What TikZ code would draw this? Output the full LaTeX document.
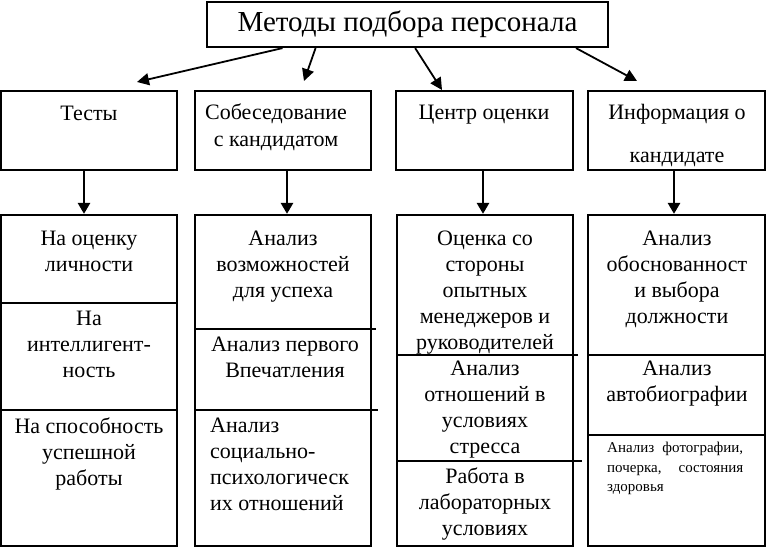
\documentclass[tikz,border=0pt]{standalone}
\usepackage{fontspec}
\setmainfont{Liberation Serif}
\usetikzlibrary{arrows.meta,calc}
\begin{document}
\begin{tikzpicture}[x=1pt,y=-1pt,
  box/.style={draw,line width=2.2pt,inner sep=0pt,rectangle},
  arr/.style={line width=1.8pt,-{Triangle[length=12pt,width=12pt]}},
  varr/.style={line width=2.6pt,-{Triangle[length=11pt,width=12pt]}},
  thickdiv/.style={line width=2pt},
  thindiv/.style={line width=1.2pt},
  txt/.style={inner sep=0pt,align=center,anchor=north,font=\fontsize{22}{26}\selectfont},
  ltxt/.style={inner sep=0pt,align=left,anchor=north west,font=\fontsize{22}{26}\selectfont},
  htxt/.style={inner sep=0pt,align=center,anchor=north,font=\fontsize{22}{27}\selectfont},
  stxt/.style={inner sep=0pt,align=justify,anchor=north west,text width=136pt,font=\fontsize{15}{19.5}\selectfont},
]
\useasboundingbox (0,0) rectangle (766,548);

% top box
\node[box,minimum width=401pt,minimum height=45pt,font=\fontsize{29}{34}\selectfont] (top) at (407.5,24.5) {Методы подбора персонала};

% second row
\node[box,minimum width=176pt,minimum height=79pt] (b1) at (89,130.5) {};
\node[box,minimum width=176pt,minimum height=79pt] (b2) at (283,130.5) {};
\node[box,minimum width=177pt,minimum height=79pt] (b3) at (484.5,130.5) {};
\node[box,minimum width=177pt,minimum height=79pt] (b4) at (676.5,130.5) {};

\node[htxt] (b1t) at (89,106) {Тесты};
\node[htxt] (b2t) at (276,104) {Собеседование\\с кандидатом};
\node[htxt] (b3t) at (484,105) {Центр оценки};
\node[htxt] (b4t) at (677,104) {Информация о\\[16pt]кандидате};

% third row
\node[box,minimum width=176pt,minimum height=331pt] (c1) at (89,380.5) {};
\node[box,minimum width=176pt,minimum height=331pt] (c2) at (283,380.5) {};
\node[box,minimum width=176pt,minimum height=331pt] (c3) at (485,380.5) {};
\node[box,minimum width=177pt,minimum height=331pt] (c4) at (676.5,380.5) {};

% dividers
\draw[thickdiv] (1,303) -- (177,303);
\draw[thindiv] (1,410) -- (177,410);
\draw[thickdiv] (195,329) -- (376,329);
\draw[thindiv] (195,410) -- (378,410);
\draw[thickdiv] (397,355) -- (578,355);
\draw[thindiv] (397,461) -- (582,461);
\draw[thickdiv] (588,355) -- (765,355);
\draw[thindiv] (588,435) -- (765,435);

% third row texts
\node[txt] (c1a) at (89,231) {На оценку\\личности};
\node[txt] (c1b) at (89,311) {На\\интеллигент-\\ность};
\node[txt] (c1c) at (89,418) {На способность\\успешной\\работы};
\node[txt] (c2a) at (283,231) {Анализ\\возможностей\\для успеха};
\node[txt] (c2b) at (285,337) {Анализ первого\\Впечатления};
\node[ltxt] (c2c) at (210,418) {Анализ\\социально-\\психологическ\\их отношений};
\node[txt] (c3a) at (485,231) {Оценка со\\стороны\\опытных\\менеджеров и\\руководителей};
\node[txt] (c3b) at (485,361) {Анализ\\отношений в\\условиях\\стресса};
\node[txt] (c3c) at (485,468) {Работа в\\лабораторных\\условиях};
\node[txt] (c4a) at (677,231) {Анализ\\обоснованност\\и выбора\\должности};
\node[txt] (c4b) at (677,361) {Анализ\\автобиографии};
\node[stxt] (c4c) at (607,442) {\hyphenpenalty=10000 Анализ фотографии,\linebreak почерка, состояния\linebreak здоровья};

% arrows from the top box
\coordinate (t1) at (137,82);
\coordinate (t2) at (304,81);
\coordinate (t3) at (442,90);
\coordinate (t4) at (637,81);
\draw[arr] ($(top.south west)!0.19!(top.south east)$) -- (t1);
\draw[arr] ($(top.south west)!0.272!(top.south east)$) -- (t2);
\draw[arr] ($(top.south west)!0.519!(top.south east)$) -- (t3);
\draw[arr] ($(top.south west)!0.918!(top.south east)$) -- (t4);

% vertical arrows
\draw[varr] ([xshift=-5pt]b1.south) -- ([xshift=-5pt]c1.north);
\draw[varr] ([xshift=4pt]b2.south) -- ([xshift=4pt]c2.north);
\draw[varr] ([xshift=-1.5pt]b3.south) -- ([xshift=-2pt]c3.north);
\draw[varr] ([xshift=-2.5pt]b4.south) -- ([xshift=-2.5pt]c4.north);
\end{tikzpicture}
\end{document}
